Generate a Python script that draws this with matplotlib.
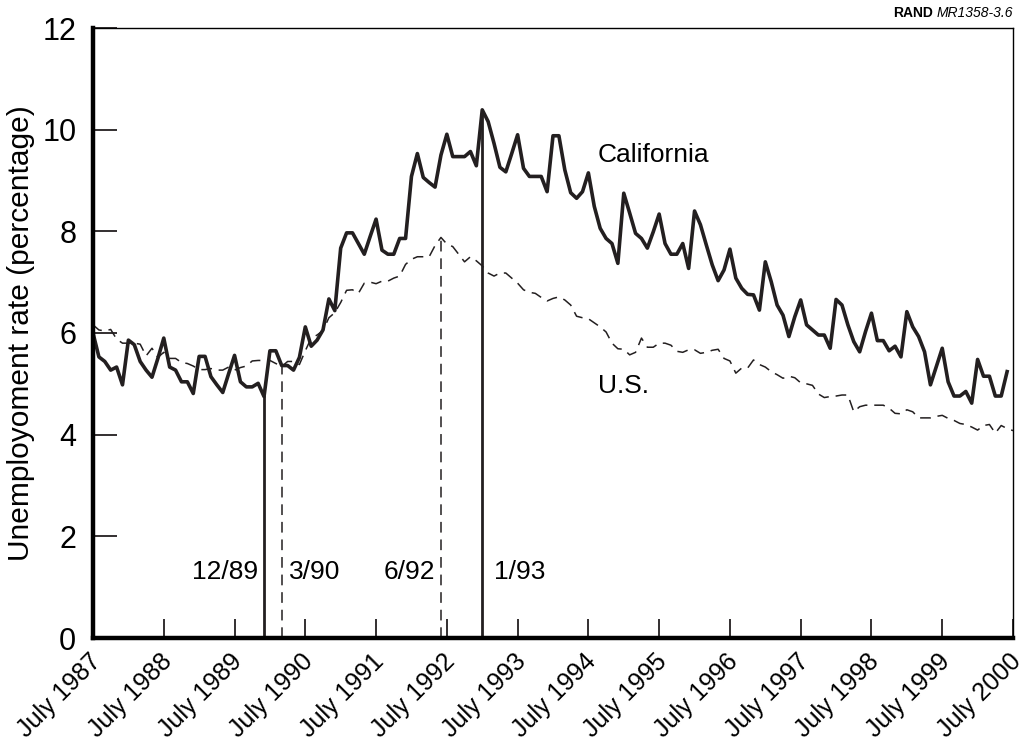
import numpy as np
import matplotlib
matplotlib.use("Agg")
import matplotlib.pyplot as plt
import matplotlib.transforms as mtransforms

matplotlib.rcParams.update({'font.size': 19, 'font.family': 'Liberation Sans'})

# monthly series, July 1987 onward
california = [6.00, 5.53, 5.44, 5.27, 5.33, 4.98, 5.86, 5.77, 5.44, 5.27, 5.13, 5.50,
              5.90, 5.33, 5.27, 5.04, 5.04, 4.81, 5.54, 5.54, 5.14, 4.98, 4.83, 5.20,
              5.56, 5.04, 4.94, 4.94, 5.01, 4.75, 5.65, 5.65, 5.36, 5.36, 5.27, 5.52,
              6.12, 5.74, 5.86, 6.06, 6.67, 6.44, 7.67, 7.97, 7.97, 7.76, 7.55, 7.90,
              8.24, 7.63, 7.55, 7.55, 7.86, 7.86, 9.08, 9.53, 9.06, 8.96, 8.87, 9.50,
              9.91, 9.47, 9.47, 9.47, 9.57, 9.29, 10.39, 10.16, 9.73, 9.26, 9.17, 9.53,
              9.90, 9.24, 9.08, 9.08, 9.08, 8.78, 9.88, 9.88, 9.21, 8.76, 8.65, 8.78,
              9.15, 8.49, 8.06, 7.86, 7.76, 7.37, 8.75, 8.36, 7.96, 7.86, 7.67, 7.99,
              8.34, 7.76, 7.55, 7.55, 7.76, 7.27, 8.40, 8.13, 7.73, 7.34, 7.03, 7.24,
              7.65, 7.08, 6.88, 6.76, 6.75, 6.45, 7.40, 7.01, 6.55, 6.35, 5.93, 6.32,
              6.65, 6.16, 6.06, 5.96, 5.96, 5.70, 6.66, 6.55, 6.16, 5.83, 5.63, 6.03,
              6.39, 5.85, 5.85, 5.65, 5.74, 5.53, 6.42, 6.12, 5.93, 5.63, 4.98, 5.34,
              5.70, 5.04, 4.76, 4.76, 4.85, 4.62, 5.48, 5.15, 5.15, 4.76, 4.76, 5.24]
us = [6.16, 6.06, 6.04, 6.07, 5.88, 5.80, 5.80, 5.80, 5.78, 5.55, 5.70, 5.52,
      5.62, 5.50, 5.50, 5.42, 5.40, 5.35, 5.28, 5.28, 5.30, 5.27, 5.27, 5.33,
      5.27, 5.32, 5.35, 5.45, 5.46, 5.46, 5.46, 5.40, 5.34, 5.44, 5.44, 5.38,
      5.65, 5.90, 5.96, 6.05, 6.30, 6.40, 6.60, 6.84, 6.85, 6.78, 6.98, 7.00,
      6.97, 7.02, 7.02, 7.08, 7.12, 7.35, 7.45, 7.50, 7.50, 7.50, 7.72, 7.88,
      7.75, 7.70, 7.55, 7.40, 7.50, 7.42, 7.32, 7.18, 7.12, 7.18, 7.18, 7.08,
      6.98, 6.85, 6.80, 6.78, 6.70, 6.63, 6.68, 6.71, 6.65, 6.55, 6.33, 6.30,
      6.28, 6.20, 6.12, 6.02, 5.80, 5.69, 5.68, 5.57, 5.62, 5.90, 5.72, 5.72,
      5.80, 5.80, 5.76, 5.64, 5.62, 5.67, 5.67, 5.60, 5.62, 5.66, 5.68, 5.50,
      5.45, 5.21, 5.31, 5.31, 5.47, 5.38, 5.33, 5.24, 5.18, 5.11, 5.15, 5.12,
      5.02, 5.00, 4.97, 4.80, 4.73, 4.75, 4.76, 4.78, 4.78, 4.45, 4.55, 4.58,
      4.58, 4.58, 4.58, 4.52, 4.42, 4.41, 4.49, 4.45, 4.33, 4.33, 4.33, 4.36,
      4.38, 4.32, 4.28, 4.22, 4.20, 4.15, 4.09, 4.18, 4.20, 4.03, 4.18, 4.12, 4.08]

tick_months = list(range(0, 157, 12))
tick_labels = [f"July {y}" for y in range(1987, 2001)]
# turning points (month index, label)
ca_marks = [(29, "12/89"), (66, "1/93")]
us_marks = [(32, "3/90"), (59, "6/92")]

ink = "#231f20"
dash = (0, (7, 4.5))

fig = plt.figure(figsize=(10.26, 7.43), dpi=100)
ax = fig.add_axes([93/1026, 1 - 638/743, 920/1026, 610/743])

ax.plot(np.arange(len(california)), california, color=ink, lw=2.6)
ax.plot(np.arange(len(us)), us, color=ink, lw=1.1, linestyle=dash)

for m, lab in ca_marks:
    ax.plot([m, m], [0, california[m]], color=ink, lw=2.0)
for m, lab in us_marks:
    ax.plot([m, m], [0, us[m]], color=ink, lw=1.1, linestyle=dash)

ax.text(28, 1.3, "12/89", ha="right", va="center")
ax.text(33.2, 1.3, "3/90", ha="left", va="center")
ax.text(58, 1.3, "6/92", ha="right", va="center")
ax.text(68, 1.3, "1/93", ha="left", va="center")

ax.text(85.6, 9.5, "California", ha="left", va="center")
ax.text(85.6, 4.95, "U.S.", ha="left", va="center")

ax.set_xlim(0, 156)
ax.set_ylim(0, 12)
ax.set_xticks(tick_months)
ax.set_xticklabels([])
# slanted date labels, drawn by hand so they sit just right of and below the ticks
base = ax.get_xaxis_transform()
shift = mtransforms.ScaledTranslation(3/72, -14/72, fig.dpi_scale_trans)
for m, lab in zip(tick_months, tick_labels):
    ax.text(m, 0, lab, transform=base + shift, rotation=45, ha="right", va="center",
            rotation_mode="anchor", fontsize=18, clip_on=False)

ax.set_yticks(np.arange(0, 13, 2))
ax.tick_params(axis="x", direction="in", length=14, width=1.3, color=ink)
ax.tick_params(axis="y", direction="in", length=17, width=1.3, pad=12, color=ink,
               labelsize=22)
ax.set_ylabel("Unemployoment rate (percentage)", fontsize=21.5)
ax.yaxis.set_label_coords(-58/920, 0.5)

for side in ["left", "bottom"]:
    ax.spines[side].set_linewidth(3.2)
for side in ["top", "right"]:
    ax.spines[side].set_linewidth(1.0)

# source tag, top right
tag = fig.text(1013/1026, 1 - 13/743, "MR1358-3.6", ha="right", va="center",
               fontsize=10, style="italic")
fig.canvas.draw()
bb = tag.get_window_extent(fig.canvas.get_renderer())
fig.text((bb.x0 - 4) / fig.bbox.width, 1 - 13/743, "RAND", ha="right", va="center",
         fontsize=10, fontweight="bold")

plt.savefig("out.png", dpi=100)
